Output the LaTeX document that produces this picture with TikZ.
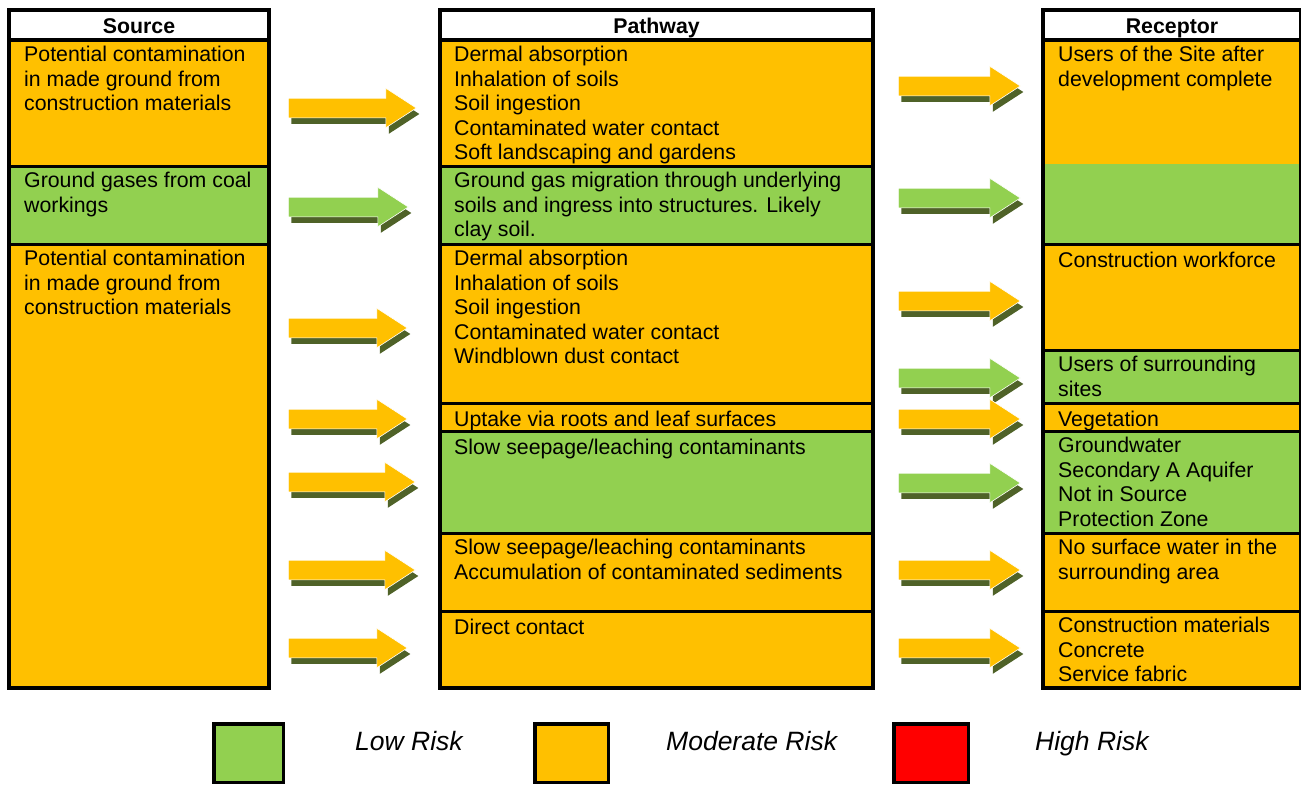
\documentclass[tikz,border=0pt]{standalone}
\usepackage{fontspec}
\setmainfont{Liberation Sans}
\usetikzlibrary{positioning, shapes.arrows, shadows}
\definecolor{modrisk}{HTML}{FFC000}
\definecolor{lowrisk}{HTML}{92D050}
\definecolor{highrisk}{HTML}{FF0000}
\definecolor{arrowshade}{HTML}{4F6228}
\newcommand{\cellfont}{\fontsize{21.3}{24.5}\selectfont}
\newcommand{\keyfont}{\fontsize{26.5}{30}\selectfont\itshape}
\tikzset{
  colframe/.style={line width=3.5pt},
  rowline/.style={line width=3pt},
  celltext/.style={anchor=north west, align=left, inner sep=0pt, font=\cellfont, execute at begin node=\strut},
  headtext/.style={anchor=base, inner sep=0pt, font=\cellfont\bfseries},
  riskarrow/.style={single arrow, single arrow head extend=10pt, single arrow tip angle=66,
    inner xsep=0pt, inner ysep=9.5pt, minimum height=122pt, anchor=tail,
    draw=white, line width=0.6pt,
    general shadow={fill=arrowshade, shadow xshift=3pt, shadow yshift=-6pt}},
  keybox/.style={draw, line width=3.5pt, minimum height=58.5pt, inner sep=0pt},
  keytext/.style={anchor=base west, inner sep=0pt, font=\keyfont},
}

\begin{document}
\begin{tikzpicture}[x=1pt, y=-1pt]
        \useasboundingbox (0,0) rectangle (1301,785);

        % source column
        \fill[modrisk] (9,40) rectangle (269,166);
        \fill[lowrisk] (9,166) rectangle (269,244);
        \fill[modrisk] (9,244) rectangle (269,688);
        \foreach \y in {166,244} \draw[rowline] (9,\y) -- (269,\y);
        \draw[colframe] (9,10) rectangle (269,688) (9,40) -- (269,40);

        % pathway column
        \fill[modrisk] (440,40) rectangle (873,166);
        \fill[lowrisk] (440,166) rectangle (873,244);
        \fill[modrisk] (440,244) rectangle (873,431);
        \fill[lowrisk] (440,431) rectangle (873,533);
        \fill[modrisk] (440,533) rectangle (873,688);
        \foreach \y in {166,244,403,431,533,611} \draw[rowline] (440,\y) -- (873,\y);
        \draw[colframe] (440,10) rectangle (873,688) (440,40) -- (873,40);

        % receptor column
        \fill[modrisk] (1043,40) rectangle (1301,164);
        \fill[lowrisk] (1043,164) rectangle (1301,244);
        \fill[modrisk] (1043,244) rectangle (1301,350);
        \fill[lowrisk] (1043,350) rectangle (1301,403);
        \fill[modrisk] (1043,403) rectangle (1301,431);
        \fill[lowrisk] (1043,431) rectangle (1301,533);
        \fill[modrisk] (1043,533) rectangle (1301,688);
        \foreach \y in {244,350,403,431,533,611} \draw[rowline] (1043,\y) -- (1301,\y);
        \draw[colframe] (1043,10) rectangle (1301,688) (1043,40) -- (1301,40);

        % headers
        \node[headtext] (srchead) at (139,33.5) {Source};
        \node[headtext] (pathhead) at (656.5,33.5) {Pathway};
        \node[headtext] (rechead) at (1172,33.5) {Receptor};

        % sources
        \node[celltext] (src1) at (24,46) {Potential contamination\\in made ground from\\construction materials};
        \node[celltext] (src2) at (24,172) {Ground gases from coal\\workings};
        \node[celltext] (src3) at (24,250) {Potential contamination\\in made ground from\\construction materials};

        % pathways
        \node[celltext] (path1) at (454,46) {Dermal absorption\\Inhalation of soils\\Soil ingestion\\Contaminated water contact\\Soft landscaping and gardens};
        \node[celltext] (path2) at (454,172) {Ground gas migration through underlying\\soils and ingress into structures. Likely\\clay soil.};
        \node[celltext] (path3) at (454,250) {Dermal absorption\\Inhalation of soils\\Soil ingestion\\Contaminated water contact\\Windblown dust contact};
        \node[celltext] (path4) at (454,409) {Uptake via roots and leaf surfaces};
        \node[celltext] (path5) at (454,437) {Slow seepage/leaching contaminants};
        \node[celltext] (path6) at (454,539) {Slow seepage/leaching contaminants\\Accumulation of contaminated sediments};
        \node[celltext] (path7) at (454,617) {Direct contact};

        % receptors
        \node[celltext] (rec1) at (1058,46) {Users of the Site after\\development complete};
        \node[celltext] (rec2) at (1058,250) {Construction workforce};
        \node[celltext] (rec3) at (1058,356) {Users of surrounding\\sites};
        \node[celltext] (rec4) at (1058,409) {Vegetation};
        \node[celltext] (rec5) at (1058,437) {Groundwater\\Secondary A Aquifer\\Not in Source\\Protection Zone};
        \node[celltext] (rec6) at (1058,539) {No surface water in the\\surrounding area};
        \node[celltext] (rec7) at (1058,617) {Construction materials\\Concrete\\Service fabric};

        % arrows source to pathway
        \foreach \n/\y/\len/\col in {1/108/128pt/modrisk, 2/207/120pt/lowrisk, 3/328/119pt/modrisk,
            4/419/119pt/modrisk, 5/482/127pt/modrisk, 6/570/127pt/modrisk, 7/648/119pt/modrisk}
          \node[riskarrow, fill=\col, minimum height=\len] (sp\n) at (288,\y) {};

        % arrows pathway to receptor
        \foreach \n/\y/\col in {1/86/modrisk, 2/198/lowrisk, 3/301/modrisk, 4/378/lowrisk,
            5/419/modrisk, 6/483/lowrisk, 7/570/modrisk, 8/648/modrisk}
          \node[riskarrow, fill=\col] (pr\n) at (898,\y) {};

        % legend
        \node[keybox, fill=lowrisk, minimum width=69.5pt] (lowkey) at (248.5,753) {};
        \node[keytext] (lowlabel) at (355,750) {Low Risk};
        \node[keybox, fill=modrisk, minimum width=73.5pt] (modkey) at (571.5,753) {};
        \node[keytext] (modlabel) at (666,750) {Moderate Risk};
        \node[keybox, fill=highrisk, minimum width=74.5pt] (highkey) at (931,753) {};
        \node[keytext] (highlabel) at (1035,750) {High Risk};
\end{tikzpicture}
\end{document}
